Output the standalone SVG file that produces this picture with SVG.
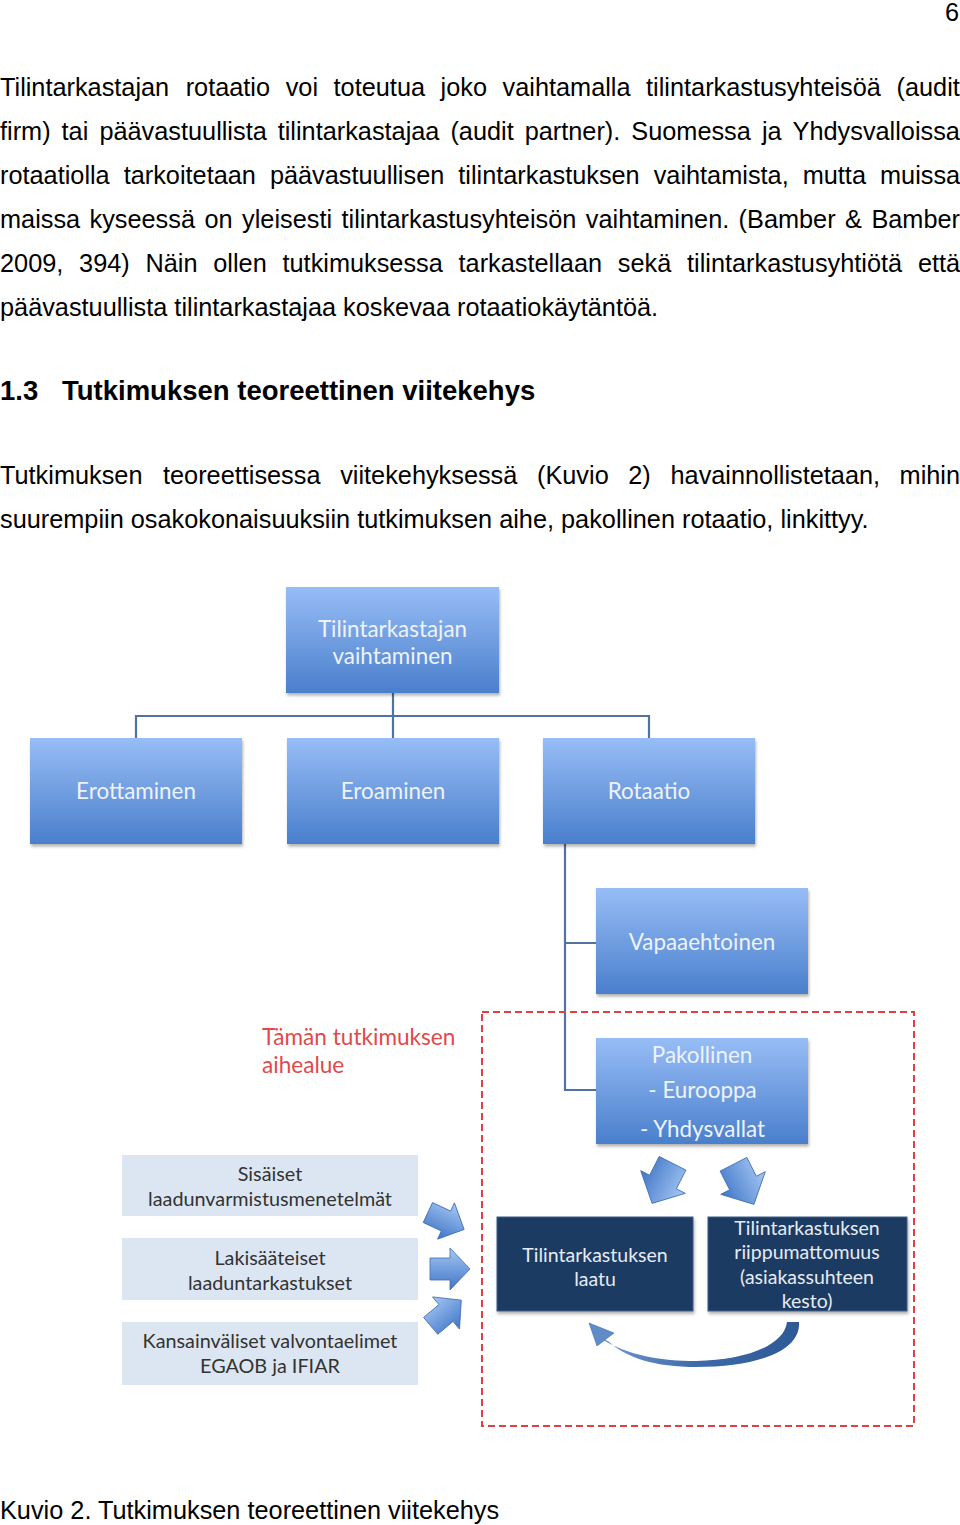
<svg xmlns="http://www.w3.org/2000/svg" width="960" height="1525" viewBox="0 0 960 1525">
<defs>
<linearGradient id="gBlue" x1="0" y1="0" x2="0" y2="1">
<stop offset="0" stop-color="#97bdf6"/>
<stop offset="1" stop-color="#4a7fcc"/>
</linearGradient>
<linearGradient id="gArrow" x1="0" y1="0" x2="0" y2="1">
<stop offset="0" stop-color="#a6c8f5"/>
<stop offset="1" stop-color="#3f75c5"/>
</linearGradient>
<linearGradient id="gCurve" x1="0" y1="0" x2="1" y2="0">
<stop offset="0" stop-color="#6f98d2"/>
<stop offset="0.5" stop-color="#3d6aa8"/>
<stop offset="1" stop-color="#2d5a96"/>
</linearGradient>
<filter id="sh" x="-10%" y="-10%" width="125%" height="135%">
<feDropShadow dx="1" dy="2.5" stdDeviation="1.5" flood-color="#000" flood-opacity="0.3"/>
</filter>
</defs>
<style>
.body{font-family:"Liberation Sans",Arial,sans-serif;font-size:25.3px;fill:#000}
.head{font-family:"Liberation Sans",Arial,sans-serif;font-size:27.5px;font-weight:bold;fill:#000}
.box{fill:url(#gBlue);filter:url(#sh)}
.lbl{font-family:Lato,"Liberation Sans",sans-serif;font-size:22.4px;fill:#eef3fb;text-anchor:middle}
.lt{fill:#dce6f2}
.ltx{font-family:Lato,"Liberation Sans",sans-serif;font-size:19.8px;fill:#333;text-anchor:middle}
.dk{fill:#1f3b62;stroke:#3e5c88;stroke-width:1;filter:url(#sh)}
.dtx{font-family:Lato,"Liberation Sans",sans-serif;font-size:19.5px;fill:#e6ebf3;text-anchor:middle}
.red{font-family:Lato,"Liberation Sans",sans-serif;font-size:22.6px;fill:#e04a4a}
.ln{fill:none;stroke:#52729f;stroke-width:2.2}
.ba{fill:url(#gArrow);stroke:#3f6db3;stroke-width:0.8}
</style>
<rect width="960" height="1525" fill="#fff"/>

<g id="page-text">
<text class="body" x="959" y="21" text-anchor="end">6</text>
<text class="body" y="96"><tspan x="0">Tilintarkastajan</tspan><tspan x="185.7">rotaatio</tspan><tspan x="285.7">voi</tspan><tspan x="333.6">toteutua</tspan><tspan x="440.6">joko</tspan><tspan x="502.6">vaihtamalla</tspan><tspan x="646.1">tilintarkastusyhteisöä</tspan><tspan x="896.5">(audit</tspan></text>
<text class="body" y="140"><tspan x="0">firm)</tspan><tspan x="61.6">tai</tspan><tspan x="99.4">päävastuullista</tspan><tspan x="277.7">tilintarkastajaa</tspan><tspan x="450.4">(audit</tspan><tspan x="524.7">partner).</tspan><tspan x="631.3">Suomessa</tspan><tspan x="761.9">ja</tspan><tspan x="792.6">Yhdysvalloissa</tspan></text>
<text class="body" y="184"><tspan x="0">rotaatiolla</tspan><tspan x="123.7">tarkoitetaan</tspan><tspan x="269.9">päävastuullisen</tspan><tspan x="458.3">tilintarkastuksen</tspan><tspan x="653.7">vaihtamista,</tspan><tspan x="802.7">mutta</tspan><tspan x="880">muissa</tspan></text>
<text class="body" y="228"><tspan x="0">maissa</tspan><tspan x="89.5">kyseessä</tspan><tspan x="204.5">on</tspan><tspan x="242.1">yleisesti</tspan><tspan x="341.5">tilintarkastusyhteisön</tspan><tspan x="585.8">vaihtaminen.</tspan><tspan x="738.6">(Bamber</tspan><tspan x="845.1">&amp;</tspan><tspan x="871.4">Bamber</tspan></text>
<text class="body" y="272"><tspan x="0">2009,</tspan><tspan x="79.1">394)</tspan><tspan x="145.5">Näin</tspan><tspan x="213.3">ollen</tspan><tspan x="282.5">tutkimuksessa</tspan><tspan x="458.6">tarkastellaan</tspan><tspan x="617.8">sekä</tspan><tspan x="687">tilintarkastusyhtiötä</tspan><tspan x="917.9">että</tspan></text>
<text class="body" x="0" y="316">päävastuullista tilintarkastajaa koskevaa rotaatiokäytäntöä.</text>
<text class="head" y="400"><tspan x="0">1.3</tspan><tspan x="62">Tutkimuksen teoreettinen viitekehys</tspan></text>
<text class="body" y="483.5"><tspan x="0">Tutkimuksen</tspan><tspan x="163">teoreettisessa</tspan><tspan x="340.2">viitekehyksessä</tspan><tspan x="537">(Kuvio</tspan><tspan x="628.3">2)</tspan><tspan x="670.5">havainnollistetaan,</tspan><tspan x="899.6">mihin</tspan></text>
<text class="body" x="0" y="527.5">suurempiin osakokonaisuuksiin tutkimuksen aihe, pakollinen rotaatio, linkittyy.</text>
<text class="body" x="0" y="1518.5">Kuvio 2. Tutkimuksen teoreettinen viitekehys</text>
</g>

<g id="connectors">
<path class="ln" d="M393,693 V738 M136,738 V716 H649 V738"/>
<path class="ln" d="M565,844 V1090 H596 M565,943 H596"/>
<g id="block-arrows">
<polygon class="ba" points="-20,-11 0,-11 0,-20 20,0 0,20 0,11 -20,11" transform="translate(446,1221) rotate(25)"/>
<polygon class="ba" points="-20,-11 0,-11 0,-21 20,0 0,21 0,11 -20,11" transform="translate(450,1269)"/>
<polygon class="ba" points="-20,-11 0,-11 0,-21 20,0 0,21 0,11 -20,11" transform="translate(446,1313) rotate(-40)"/>
<polygon class="ba" points="-21,-15 0,-15 0,-25 24,0 0,25 0,15 -21,15" transform="translate(663,1182) rotate(117)"/>
<polygon class="ba" points="-21,-15 0,-15 0,-25 24,0 0,25 0,15 -21,15" transform="translate(743,1183) rotate(63)"/>
</g>
<g id="curved-arrow">
<path d="M600,1338 C628,1356 662,1361 696,1361 C745,1360 784,1346 787,1322 L799,1322 C801,1351 757,1367 696,1367 C656,1367 626,1358 608,1341 Z" fill="url(#gCurve)"/>
<polygon points="589,1323 614,1333 597,1346" fill="#5f8bc8" stroke="#3f6db3" stroke-width="0.6"/>
</g>
</g>

<g id="scope">
<rect x="482" y="1012" width="432" height="414" fill="none" stroke="#e0403f" stroke-width="2" stroke-dasharray="7 4"/>
</g>

<g id="n-vaihtaminen">
<rect class="box" x="286" y="587" width="213" height="106"/>
<text class="lbl" x="392.5" y="637">Tilintarkastajan</text>
<text class="lbl" x="392.5" y="664">vaihtaminen</text>
</g>
<g id="n-erottaminen">
<rect class="box" x="30" y="738" width="212" height="106"/>
<text class="lbl" x="136" y="799">Erottaminen</text>
</g>
<g id="n-eroaminen">
<rect class="box" x="287" y="738" width="212" height="106"/>
<text class="lbl" x="393" y="799">Eroaminen</text>
</g>
<g id="n-rotaatio">
<rect class="box" x="543" y="738" width="212" height="106"/>
<text class="lbl" x="649" y="799">Rotaatio</text>
</g>
<g id="n-vapaaehtoinen">
<rect class="box" x="596" y="888" width="212" height="106"/>
<text class="lbl" x="702" y="950">Vapaaehtoinen</text>
</g>
<g id="n-pakollinen">
<rect class="box" x="596" y="1038" width="212" height="106"/>
<text class="lbl" x="702" y="1063">Pakollinen</text>
<text class="lbl" x="702.5" y="1098">- Eurooppa</text>
<text class="lbl" x="702.5" y="1137">- Yhdysvallat</text>
</g>
<g id="n-aihealue">
<text class="red" x="262" y="1045">Tämän tutkimuksen</text>
<text class="red" x="262" y="1073">aihealue</text>
</g>
<g id="n-sisaiset">
<rect class="lt" x="122" y="1155" width="296" height="61"/>
<text class="ltx" x="270" y="1181">Sisäiset</text>
<text class="ltx" x="270" y="1206">laadunvarmistusmenetelmät</text>
</g>
<g id="n-lakisaateiset">
<rect class="lt" x="122" y="1238" width="296" height="62"/>
<text class="ltx" x="270" y="1265">Lakisääteiset</text>
<text class="ltx" x="270" y="1290">laaduntarkastukset</text>
</g>
<g id="n-kansainvaliset">
<rect class="lt" x="122" y="1322" width="296" height="63"/>
<text class="ltx" x="270" y="1348">Kansainväliset valvontaelimet</text>
<text class="ltx" x="270" y="1373">EGAOB ja IFIAR</text>
</g>
<g id="n-laatu">
<rect class="dk" x="497" y="1217" width="196" height="94"/>
<text class="dtx" x="595" y="1262">Tilintarkastuksen</text>
<text class="dtx" x="595" y="1286">laatu</text>
</g>
<g id="n-riippumattomuus">
<rect class="dk" x="708" y="1217" width="199" height="94"/>
<text class="dtx" x="807" y="1235">Tilintarkastuksen</text>
<text class="dtx" x="807" y="1259">riippumattomuus</text>
<text class="dtx" x="807" y="1284">(asiakassuhteen</text>
<text class="dtx" x="807" y="1308">kesto)</text>
</g>
</svg>
